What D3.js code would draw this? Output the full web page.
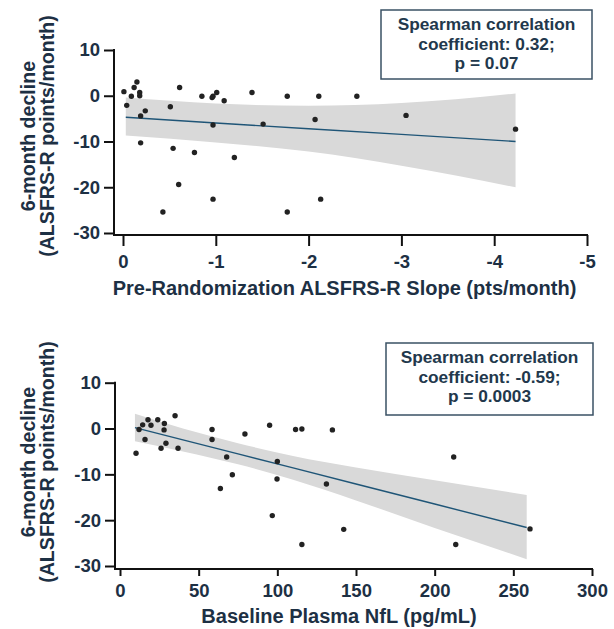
<!DOCTYPE html>
<html><head><meta charset="utf-8">
<script src="https://cdn.jsdelivr.net/npm/d3@7"></script>
<style>
html,body{margin:0;padding:0;background:#fff;}
svg{display:block;}
</style></head>
<body>
<svg id="chart" width="614" height="629"></svg>
<script>
// ---------- DATA ----------
// Panel A: Pre-randomization slope vs 6-month decline
const slopeX = [-0.01,-0.04,-0.09,-0.12,-0.15,-0.18,-0.18,-0.19,-0.24,-0.19,-0.43,-0.51,-0.54,-0.60,-0.61,-0.77,-0.85,-0.96,-0.97,-1.01,-0.97,-0.97,-1.09,-1.20,-1.39,-1.51,-1.77,-1.77,-2.07,-2.11,-2.13,-2.52,-3.05,-4.23];
const slopeY = [0.9,-2.1,-0.1,1.8,3.0,0.7,0.0,-4.4,-3.3,-10.3,-25.4,-2.4,-11.5,-19.4,1.8,-12.4,-0.1,-0.4,-0.1,0.7,-6.4,-22.6,-1.1,-13.5,0.7,-6.2,-0.1,-25.4,-5.2,-0.1,-22.6,-0.1,-4.3,-7.3];
const slopeFitX = [-0.03,-1.0,-2.0,-3.0,-4.23];
const slopeFitY = [-4.7,-5.96,-7.2,-8.45,-10.0];
const slopeBandUpper = [-0.4,-1.7,-2.2,-1.6,0.5];
const slopeBandLower = [-8.7,-10.2,-12.2,-15.3,-20.0];
const slopeTicksX = [0,-1,-2,-3,-4,-5];

// Panel B: Baseline plasma NfL vs 6-month decline
const nflX = [10.2,12.1,14.4,15.9,17.8,19.7,24.0,26.1,28.2,28.0,29.2,35.0,36.9,58.5,58.5,63.8,67.8,71.4,79.4,95.1,96.8,100.0,99.8,111.6,115.6,115.6,131.2,135.0,142.2,212.1,213.4,260.6];
const nflY = [-5.4,-0.2,0.8,-2.4,1.9,0.7,1.9,-4.3,1.1,-0.3,-3.2,2.8,-4.3,-0.2,-2.4,-13.1,-6.2,-10.1,-1.2,0.7,-19.0,-7.2,-11.0,-0.2,-0.1,-25.3,-12.1,-0.3,-22.0,-6.2,-25.3,-21.9];
const nflFitX = [9.5,40,75,110,150,200,258.5];
const nflFitY = [0.2,-2.47,-5.53,-8.6,-12.1,-16.48,-21.6];
const nflBandUpper = [3.2,0.0,-3.2,-6.0,-8.5,-11.3,-14.5];
const nflBandLower = [-2.8,-5.0,-7.8,-11.2,-15.7,-21.7,-28.5];
const nflTicksX = [0,50,100,150,200,250,300];

const declineTicks = [10,0,-10,-20,-30];

const yTitle1 = "6-month decline";
const yTitle2 = "(ALSFRS-R points/month)";
const xTitleA = "Pre-Randomization ALSFRS-R Slope (pts/month)";
const xTitleB = "Baseline Plasma NfL (pg/mL)";
const boxA = ["Spearman correlation","coefficient: 0.32;","p = 0.07"];
const boxB = ["Spearman correlation","coefficient: -0.59;","p = 0.0003"];

// ---------- STYLE ----------
const textColor = "#1d3044";
const lineColor = "#1f5577";
const bandColor = "#d9d9d9";
const font = "Arial, 'Liberation Sans', Helvetica, sans-serif";

const svg = d3.select("#chart");

function panel(cfg){
  const g = svg.append("g");
  const x = d3.scaleLinear().domain(cfg.xDomain).range(cfg.xRange);
  const y = d3.scaleLinear().domain([10,-30]).range(cfg.yRange);

  const bandData = cfg.fitX.map((v,i)=>({x:v, lo:cfg.lower[i], hi:cfg.upper[i], f:cfg.fitY[i]}));
  g.append("path").datum(bandData)
    .attr("d", d3.area().x(d=>x(d.x)).y0(d=>y(d.lo)).y1(d=>y(d.hi)).curve(d3.curveMonotoneX))
    .attr("fill", bandColor);
  g.append("path").datum(bandData)
    .attr("d", d3.line().x(d=>x(d.x)).y(d=>y(d.f)))
    .attr("fill","none").attr("stroke", lineColor).attr("stroke-width",1.4);

  g.selectAll("circle.pt").data(cfg.px.map((v,i)=>[v,cfg.py[i]])).join("circle")
    .attr("cx", d=>x(d[0])).attr("cy", d=>y(d[1])).attr("r",2.7).attr("fill","#222");

  const fmt = d => String(d);
  const ya = g.append("g").attr("transform",`translate(${cfg.yAxisX},0)`)
    .call(d3.axisLeft(y).tickValues(declineTicks).tickSize(10).tickPadding(4).tickFormat(fmt));
  ya.attr("font-family", null);
  ya.select(".domain").remove();
  ya.selectAll(".tick line").attr("stroke","#111").attr("stroke-width",2);
  ya.selectAll(".tick text").attr("fill",textColor).style("font-family",font)
    .style("font-size","18.5px").style("font-weight","bold");
  g.append("line").attr("x1",cfg.yAxisX).attr("x2",cfg.yAxisX)
    .attr("y1",cfg.yRange[0]-1).attr("y2",cfg.xAxisY+1).attr("stroke","#111").attr("stroke-width",2);

  const xa = g.append("g").attr("transform",`translate(0,${cfg.xAxisY})`)
    .call(d3.axisBottom(x).tickValues(cfg.xTicks).tickSize(cfg.xTickSize).tickPadding(cfg.xTickPad).tickFormat(fmt));
  xa.attr("font-family", null);
  xa.select(".domain").remove();
  xa.selectAll(".tick line").attr("stroke","#111").attr("stroke-width",2);
  xa.selectAll(".tick text").attr("fill",textColor).style("font-family",font)
    .style("font-size","18.5px").style("font-weight","bold");
  g.append("line").attr("x1",cfg.yAxisX-1).attr("x2",x(cfg.xDomain[1])+1)
    .attr("y1",cfg.xAxisY).attr("y2",cfg.xAxisY).attr("stroke","#111").attr("stroke-width",2);

  const yt = g.append("text").attr("transform",`translate(0,${cfg.yTitleY}) rotate(-90)`)
    .attr("text-anchor","middle").attr("fill",textColor)
    .style("font-family",font).style("font-size","19.6px").style("font-weight","bold");
  yt.append("tspan").attr("x",0).attr("y",35).text(yTitle1);
  yt.append("tspan").attr("x",0).attr("y",54).text(yTitle2);

  g.append("text").attr("x",cfg.xTitleX).attr("y",cfg.xTitleY).attr("text-anchor","middle")
    .attr("fill",textColor).style("font-family",font).style("font-size","20px").style("font-weight","bold")
    .text(cfg.xTitle);

  const b = cfg.box;
  g.append("rect").attr("x",b.x).attr("y",b.y).attr("width",b.w).attr("height",b.h)
    .attr("fill","#fff").attr("stroke","#3a5164").attr("stroke-width",1.5);
  const bt = g.append("text").attr("text-anchor","middle").attr("fill","#22384c")
    .style("font-family",font).style("font-size","17.3px").style("font-weight","bold");
  cfg.boxText.forEach((t,i)=>{
    bt.append("tspan").attr("x",b.x+b.w/2).attr("y",b.y+20+i*19.5).text(t);
  });
}

panel({
  xDomain:[0,-5], xRange:[123,587], yRange:[50,233],
  yAxisX:114, xAxisY:235, xTicks:slopeTicksX, xTickSize:11, xTickPad:9,
  px:slopeX, py:slopeY, fitX:slopeFitX, fitY:slopeFitY, upper:slopeBandUpper, lower:slopeBandLower,
  yTitleY:136, xTitle:xTitleA, xTitleX:344.5, xTitleY:295,
  box:{x:381,y:10,w:211,h:69}, boxText:boxA
});

panel({
  xDomain:[0,300], xRange:[120,592], yRange:[382.7,566],
  yAxisX:115, xAxisY:569, xTicks:nflTicksX, xTickSize:7, xTickPad:8,
  px:nflX, py:nflY, fitX:nflFitX, fitY:nflFitY, upper:nflBandUpper, lower:nflBandLower,
  yTitleY:462, xTitle:xTitleB, xTitleX:339, xTitleY:623,
  box:{x:386,y:343,w:207,h:72}, boxText:boxB
});
</script>
</body></html>
